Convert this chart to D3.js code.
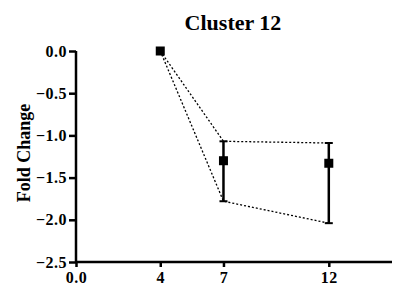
<!DOCTYPE html>
<html>
<head>
<meta charset="utf-8">
<script src="https://cdn.jsdelivr.net/npm/d3@7"></script>
<style>
  body { margin: 0; background: #fff; }
  text { font-family: "Liberation Serif", "Times New Roman", serif; font-weight: bold; fill: #000; }
</style>
</head>
<body>
<svg id="plot" width="396" height="292"></svg>
<script>
// Time points and fold change (mean with upper/lower SD).
var timepoints = [4, 7, 12];
var means = [0, -1.30, -1.33];
var uppers = [0, -1.07, -1.09];
var lowers = [0, -1.78, -2.04];

// Tick labels.
var xticks = [0, 4, 7, 12];
var yticks = [0, -0.5, -1.0, -1.5, -2.0, -2.5];

var svg = d3.select("#plot");

var x = d3.scaleLinear().domain([0, 15]).range([76, 392]);
var y = d3.scaleLinear().domain([-2.5, 0]).range([262, 51]);

var pts = timepoints.map(function(t, i) {
  return { t: t, m: means[i], hi: uppers[i], lo: lowers[i] };
});

// Dotted envelope lines.
var line = d3.line().x(function(d) { return x(d[0]); }).y(function(d) { return y(d[1]); });
[pts.map(function(d) { return [d.t, d.hi]; }), pts.map(function(d) { return [d.t, d.lo]; })]
  .forEach(function(p) {
    svg.append("path")
      .attr("d", line(p))
      .attr("fill", "none")
      .attr("stroke", "#000")
      .attr("stroke-width", 1.3)
      .attr("stroke-dasharray", "2,2");
  });

// Error bars.
var bars = pts.filter(function(d) { return d.hi !== d.lo; });
var eb = svg.selectAll(".eb").data(bars).enter().append("g").attr("class", "eb");
eb.append("line")
  .attr("x1", function(d) { return x(d.t); })
  .attr("x2", function(d) { return x(d.t); })
  .attr("y1", function(d) { return y(d.hi); })
  .attr("y2", function(d) { return y(d.lo); })
  .attr("stroke", "#000").attr("stroke-width", 2.5);
["hi", "lo"].forEach(function(k) {
  eb.append("line")
    .attr("x1", function(d) { return x(d.t) - 4; })
    .attr("x2", function(d) { return x(d.t) + 4; })
    .attr("y1", function(d) { return y(d[k]); })
    .attr("y2", function(d) { return y(d[k]); })
    .attr("stroke", "#000").attr("stroke-width", 2);
});

// Mean markers.
svg.selectAll(".pt").data(pts).enter().append("rect")
  .attr("class", "pt")
  .attr("x", function(d) { return x(d.t) - 4.5; })
  .attr("y", function(d) { return y(d.m) - 4.5; })
  .attr("width", 9).attr("height", 9)
  .attr("fill", "#000");

// Axes.
var xAxis = d3.axisBottom(x).tickValues(xticks).tickSize(5).tickPadding(5)
  .tickFormat(function(d) { return d === 0 ? "0.0" : d; });
var gx = svg.append("g").attr("transform", "translate(0," + y(-2.5) + ")").call(xAxis);

var yAxis = d3.axisLeft(y).tickValues(yticks).tickSize(7).tickPadding(2)
  .tickFormat(d3.format(".1f"));
var gy = svg.append("g").attr("transform", "translate(" + x(0) + ",0)").call(yAxis);

[gx, gy].forEach(function(g) {
  g.select(".domain").attr("stroke-width", 2.5);
  g.selectAll(".tick line").attr("stroke-width", 2.5);
  g.selectAll("text")
    .attr("font-size", 16)
    .attr("letter-spacing", 0.5)
    .attr("font-family", "Liberation Serif")
    .attr("font-weight", "bold");
});
gy.select(".domain").attr("d", "M0," + y(0) + "V" + y(-2.5));
gx.select(".domain").attr("d", "M" + x(0) + ",0H" + x(15));

// Title and axis label.
svg.append("text")
  .attr("x", 233).attr("y", 30)
  .attr("text-anchor", "middle")
  .attr("font-size", 22)
  .text("Cluster 12");

svg.append("text")
  .attr("transform", "translate(30,153) rotate(-90)")
  .attr("text-anchor", "middle")
  .attr("font-size", 18)
  .text("Fold Change");
</script>
</body>
</html>
